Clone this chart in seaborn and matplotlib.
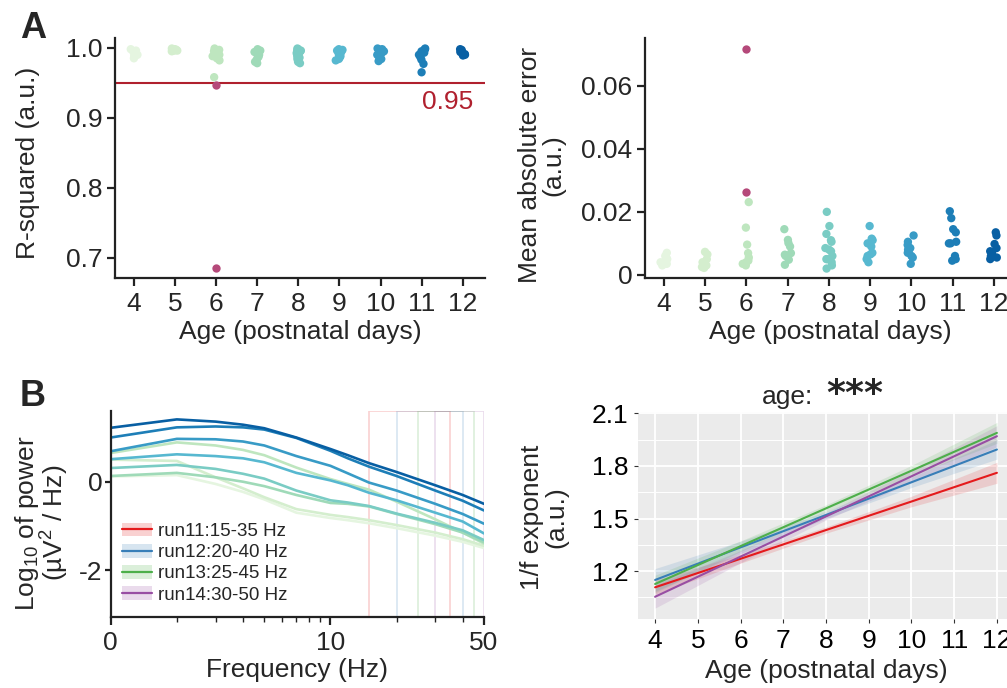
import matplotlib.pyplot as plt
import matplotlib.ticker as mticker
import numpy as np
import pandas as pd
import seaborn as sns
from matplotlib.lines import Line2D
from matplotlib.patches import Patch

# ---- data ----
ages = [4, 5, 6, 7, 8, 9, 10, 11, 12]

# panel A: goodness of fit per age
r2_values = [
    [0.998, 0.996, 0.994, 0.992, 0.990, 0.988, 0.985],
    [0.999, 0.998, 0.998, 0.997, 0.996, 0.996, 0.995],
    [0.999, 0.997, 0.995, 0.993, 0.990, 0.988, 0.985, 0.982, 0.958],
    [0.998, 0.996, 0.994, 0.992, 0.990, 0.987, 0.984, 0.980, 0.978],
    [0.999, 0.998, 0.997, 0.996, 0.995, 0.994, 0.993, 0.992, 0.990, 0.988, 0.986, 0.984, 0.980, 0.978],
    [0.998, 0.997, 0.996, 0.994, 0.992, 0.990, 0.988, 0.986, 0.984, 0.982],
    [0.999, 0.998, 0.997, 0.996, 0.995, 0.993, 0.990, 0.987, 0.984, 0.981],
    [0.999, 0.998, 0.997, 0.995, 0.993, 0.990, 0.987, 0.983, 0.977, 0.965],
    [0.998, 0.997, 0.996, 0.995, 0.994, 0.993, 0.992, 0.991, 0.990, 0.989],
]
mae_values = [
    [0.0070, 0.0060, 0.0055, 0.0050, 0.0040, 0.0035, 0.0030],
    [0.0073, 0.0065, 0.0050, 0.0040, 0.0030, 0.0025, 0.0022],
    [0.0231, 0.0150, 0.0096, 0.0069, 0.0055, 0.0045, 0.0035, 0.0030, 0.0040],
    [0.0145, 0.0111, 0.0101, 0.0090, 0.0069, 0.0064, 0.0060, 0.0048, 0.0032],
    [0.0200, 0.0155, 0.0130, 0.0110, 0.0105, 0.0085, 0.0080, 0.0075, 0.0060, 0.0050, 0.0050, 0.0040, 0.0030, 0.0020],
    [0.0155, 0.0115, 0.0110, 0.0100, 0.0090, 0.0070, 0.0065, 0.0060, 0.0050, 0.0040],
    [0.0125, 0.0105, 0.0095, 0.0085, 0.0080, 0.0075, 0.0070, 0.0060, 0.0055, 0.0035],
    [0.0202, 0.0180, 0.0145, 0.0135, 0.0105, 0.0100, 0.0100, 0.0060, 0.0050, 0.0045],
    [0.0135, 0.0125, 0.0098, 0.0085, 0.0075, 0.0070, 0.0065, 0.0060, 0.0055, 0.0050],
]
outlier_age = [6, 6]
outlier_r2 = [0.947, 0.686]
outlier_mae = [0.0717, 0.0263]
r2_threshold = 0.95

# panel B left: mean log power spectra per age
freqs = [1, 2, 3, 4, 5, 7, 10, 12, 15, 20, 30, 40, 50]
log_power = [
    [0.12, 0.15, -0.05, -0.23, -0.40, -0.70, -0.82, -0.87, -0.94, -1.05, -1.22, -1.36, -1.50],
    [0.50, 0.47, 0.10, -0.15, -0.35, -0.62, -0.75, -0.80, -0.87, -0.98, -1.15, -1.30, -1.45],
    [0.65, 0.89, 0.82, 0.72, 0.60, 0.32, 0.06, -0.05, -0.18, -0.45, -0.85, -1.15, -1.40],
    [0.13, 0.20, 0.10, 0.00, -0.10, -0.30, -0.48, -0.50, -0.56, -0.73, -0.96, -1.15, -1.37],
    [0.31, 0.38, 0.29, 0.18, 0.07, -0.20, -0.42, -0.47, -0.55, -0.72, -0.93, -1.10, -1.32],
    [0.51, 0.62, 0.58, 0.53, 0.44, 0.20, 0.03, -0.08, -0.25, -0.42, -0.70, -0.90, -1.17],
    [0.69, 0.97, 0.96, 0.91, 0.82, 0.58, 0.36, 0.19, -0.02, -0.20, -0.50, -0.73, -0.95],
    [1.00, 1.23, 1.25, 1.23, 1.18, 0.99, 0.70, 0.53, 0.34, 0.13, -0.20, -0.43, -0.65],
    [1.22, 1.41, 1.36, 1.29, 1.21, 1.00, 0.74, 0.60, 0.42, 0.22, -0.08, -0.30, -0.50],
]

# fitting ranges
runs = ["run11", "run12", "run13", "run14"]
run_lo = [15, 20, 25, 30]
run_hi = [35, 40, 45, 50]
run_colors = ["#e41a1c", "#377eb8", "#4daf4a", "#984ea3"]

# panel B right: 1/f exponent fit per run
fit_ages = [4, 6, 8, 10, 12]
fit_exponent = [
    [1.107, 1.270, 1.434, 1.597, 1.761],
    [1.149, 1.335, 1.520, 1.707, 1.894],
    [1.126, 1.342, 1.558, 1.773, 1.989],
    [1.053, 1.282, 1.512, 1.741, 1.970],
]
fit_halfwidth = [
    [0.040, 0.025, 0.018, 0.030, 0.060],
    [0.065, 0.035, 0.020, 0.030, 0.055],
    [0.050, 0.030, 0.020, 0.030, 0.060],
    [0.065, 0.035, 0.020, 0.035, 0.060],
]

# ---- style ----
sns.set_theme(style="ticks")
plt.rcParams["font.family"] = ["Liberation Sans", "DejaVu Sans"]
plt.rcParams["mathtext.fontset"] = "custom"
plt.rcParams["mathtext.rm"] = "Liberation Sans"
plt.rcParams["mathtext.it"] = "Liberation Sans:italic"
plt.rcParams["axes.unicode_minus"] = False

TICK_FS = 19
LABEL_FS = 19
outlier_color = "#b5497a"
line_red = "#b0202e"

age_labels = [str(a) for a in ages]
palette = dict(zip(age_labels, sns.color_palette("GnBu", len(ages))))

W, H = 1007, 688
fig = plt.figure(figsize=(W / 100, H / 100), dpi=100)
ax_r2 = fig.add_axes([115 / W, 1 - 278 / H, 370 / W, 240 / H])
ax_mae = fig.add_axes([645 / W, 1 - 278 / H, 371 / W, 240 / H])
ax_psd = fig.add_axes([110.7 / W, 1 - 617 / H, 373.3 / W, 206 / H])
ax_exp = fig.add_axes([638 / W, 1 - 619 / H, 376 / W, 207.3 / H])

# ---- panel A ----
fit_df = pd.DataFrame(
    {
        "age": [str(a) for a, vals in zip(ages, r2_values) for _ in vals],
        "r2": [v for vals in r2_values for v in vals],
        "mae": [v for vals in mae_values for v in vals],
    }
)
out_df = pd.DataFrame({"age": [str(a) for a in outlier_age], "r2": outlier_r2, "mae": outlier_mae})

np.random.seed(7)
for ax, col in [(ax_r2, "r2"), (ax_mae, "mae")]:
    sns.stripplot(data=fit_df, x="age", y=col, hue="age", palette=palette, order=age_labels,
                  jitter=0.09, size=6, linewidth=0, legend=False, ax=ax)
    sns.stripplot(data=out_df, x="age", y=col, order=age_labels, color=outlier_color,
                  jitter=False, size=6, linewidth=0, ax=ax)
    ax.set_xlim(-0.46, 8.54)
    sns.despine(ax=ax)
    for s in ["left", "bottom"]:
        ax.spines[s].set_linewidth(1.6)
        ax.spines[s].set_color("#222222")
    ax.tick_params(axis="both", labelsize=TICK_FS, width=1.6, length=6, color="#222222")
    ax.tick_params(axis="x", pad=4)
    ax.tick_params(axis="y", pad=3)
    ax.set_xlabel("Age (postnatal days)", fontsize=LABEL_FS, va="top")
    ax.xaxis.set_label_coords(0.5, -0.175)

ax_r2.axhline(r2_threshold, color=line_red, lw=1.5, zorder=1)
ax_r2.text(8.25, 0.923, f"{r2_threshold:.2f}", color=line_red, fontsize=TICK_FS, ha="right", va="center")
ax_r2.set_ylim(0.671, 1.014)
ax_r2.set_yticks([0.7, 0.8, 0.9, 1.0])
ax_r2.yaxis.set_major_formatter(mticker.FormatStrFormatter("%.1f"))
ax_r2.set_ylabel("R-squared (a.u.)", fontsize=LABEL_FS, va="center")
ax_r2.yaxis.set_label_coords(-0.235, 0.48)

ax_mae.set_ylim(-0.001, 0.0752)
ax_mae.set_yticks([0, 0.02, 0.04, 0.06])
ax_mae.set_yticklabels(["0", "0.02", "0.04", "0.06"])
ax_mae.set_ylabel("Mean absolute error\n(a.u.)", fontsize=LABEL_FS, va="center", linespacing=1.0)
ax_mae.yaxis.set_label_coords(-0.278, 0.47)

# ---- panel B left: spectra ----
psd_df = pd.DataFrame(
    {
        "freq": [f for _ in ages for f in freqs],
        "power": [v for curve in log_power for v in curve],
        "age": [str(a) for a in ages for _ in freqs],
    }
)
for lo, hi, c in zip(run_lo, run_hi, run_colors):
    ax_psd.axvspan(lo, hi, facecolor="none", edgecolor=c, alpha=0.2, lw=1.2, zorder=0.5)
sns.lineplot(data=psd_df, x="freq", y="power", hue="age", palette=palette, hue_order=age_labels,
             lw=1.9, legend=False, ax=ax_psd, zorder=2)
ax_psd.set_xscale("log")
ax_psd.set_xlim(1, 50)
ax_psd.set_ylim(-3.06, 1.6)
ax_psd.set_xticks([1, 10, 50])
ax_psd.set_xticklabels(["0", "10", "50"])
ax_psd.xaxis.set_minor_locator(mticker.LogLocator(base=10, subs=np.arange(2, 10)))
ax_psd.xaxis.set_minor_formatter(mticker.NullFormatter())
ax_psd.set_yticks([0, -2])
ax_psd.set_yticklabels(["0", "-2"])
sns.despine(ax=ax_psd)
for s in ["left", "bottom"]:
    ax_psd.spines[s].set_linewidth(1.6)
    ax_psd.spines[s].set_color("#222222")
ax_psd.tick_params(axis="both", which="major", labelsize=TICK_FS, width=1.6, length=6, color="#222222")
ax_psd.tick_params(axis="y", length=4, pad=2)
ax_psd.tick_params(axis="x", which="minor", width=1.0, length=3.5, color="#222222")
ax_psd.tick_params(axis="x", pad=4)
ax_psd.set_xlabel("Frequency (Hz)", fontsize=LABEL_FS, va="top")
ax_psd.xaxis.set_label_coords(0.5, -0.2)
ax_psd.set_ylabel("Log$_{10}$ of power\n(µV$^2$ / Hz)", fontsize=LABEL_FS, va="center", linespacing=0.95)
ax_psd.yaxis.set_label_coords(-0.184, 0.456)

handles = [
    (Patch(facecolor=c, alpha=0.2, edgecolor="none"), Line2D([], [], color=c, lw=1.6))
    for c in run_colors
]
labels = [f"{r}:{lo}-{hi} Hz" for r, lo, hi in zip(runs, run_lo, run_hi)]
ax_psd.legend(handles, labels, loc="lower left", bbox_to_anchor=(0.03, 0.065), frameon=False,
              fontsize=13.5, handlelength=1.6, handleheight=0.75, handletextpad=0.35,
              labelspacing=0.2, borderpad=0, borderaxespad=0)

# ---- panel B right: exponent vs age ----
ax_exp.set_facecolor("#ebebeb")
for ex, hw, c in zip(fit_exponent, fit_halfwidth, run_colors):
    ex = np.array(ex)
    hw = np.array(hw)
    ax_exp.fill_between(fit_ages, ex - hw, ex + hw, color=c, alpha=0.15, lw=0)
for ex, c in zip(fit_exponent, run_colors):
    sns.lineplot(x=fit_ages, y=ex, color=c, lw=1.5, ax=ax_exp)
ax_exp.set_xlim(3.6, 12.4)
ax_exp.set_ylim(0.926, 2.11)
ax_exp.set_xticks(ages)
ax_exp.set_yticks([1.2, 1.5, 1.8, 2.1])
ax_exp.yaxis.set_major_formatter(mticker.FormatStrFormatter("%.1f"))
ax_exp.yaxis.set_minor_locator(mticker.FixedLocator([1.05, 1.35, 1.65, 1.95]))
ax_exp.set_axisbelow(True)
ax_exp.grid(which="major", color="white", lw=1.3)
ax_exp.grid(which="minor", axis="y", color="white", lw=0.7)
for s in ax_exp.spines.values():
    s.set_visible(False)
ax_exp.tick_params(axis="both", which="major", labelsize=TICK_FS, length=3, width=0.8,
                   color="#333333", labelcolor="black", pad=4)
ax_exp.tick_params(which="minor", length=0)
ax_exp.set_xlabel("Age (postnatal days)", fontsize=LABEL_FS, va="top")
ax_exp.xaxis.set_label_coords(0.5, -0.195)
ax_exp.set_ylabel("1/f exponent\n(a.u.)", fontsize=LABEL_FS, va="center", linespacing=1.0)
ax_exp.yaxis.set_label_coords(-0.25, 0.49)
ax_exp.text(0.465, 1.035, "age:", transform=ax_exp.transAxes, fontsize=LABEL_FS, ha="right", va="baseline")
ax_exp.text(0.50, 1.035, "***", transform=ax_exp.transAxes, fontsize=26, fontweight="bold",
            family="DejaVu Sans", ha="left", va="baseline")

# panel letters
fig.text(33 / W, 1 - 29 / H, "A", fontsize=26, fontweight="bold", ha="center", va="center")
fig.text(33 / W, 1 - 397 / H, "B", fontsize=26, fontweight="bold", ha="center", va="center")

fig.savefig("out.png", dpi=100)
